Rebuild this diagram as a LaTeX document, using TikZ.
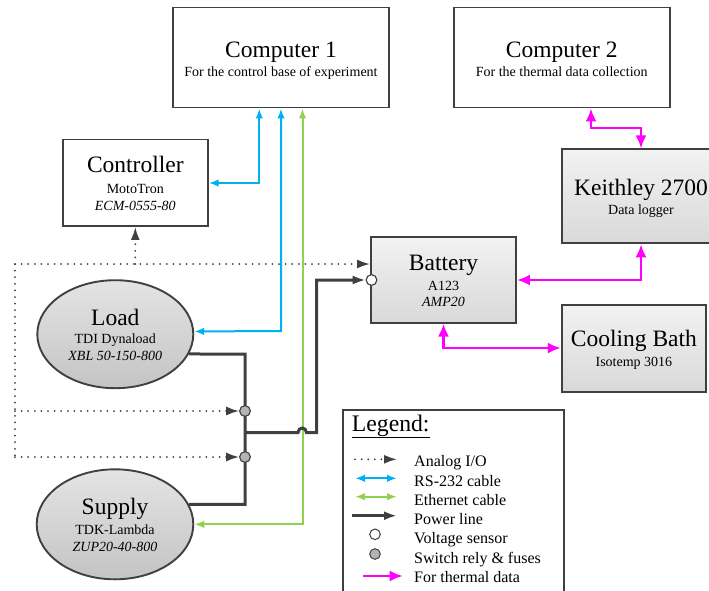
\documentclass[tikz,border=0pt]{standalone}
\usepackage{fontspec}
\setmainfont{Liberation Serif}
\usetikzlibrary{arrows.meta,shapes.geometric}
\definecolor{dk}{HTML}{404040}
\definecolor{rsblue}{HTML}{00B0F0}
\definecolor{ethgreen}{HTML}{92D050}
\definecolor{thmag}{HTML}{FF00FF}
\definecolor{boxtop}{HTML}{F2F2F2}
\definecolor{boxbot}{HTML}{D9D9D9}
\definecolor{elltop}{HTML}{E4E4E4}
\definecolor{ellbot}{HTML}{C4C4C4}
\definecolor{swfill}{HTML}{B4B4B4}
\tikzset{
  wbox/.style={rectangle, draw=dk, line width=1.9pt, fill=white, inner sep=0pt},
  gbox/.style={rectangle, draw=dk, line width=1.9pt, top color=boxtop, bottom color=boxbot, inner sep=0pt},
  ell/.style={ellipse, draw=dk, line width=1.9pt, top color=elltop, bottom color=ellbot, inner sep=0pt},
  ttl/.style={anchor=base, font=\fontsize{23.5}{26}\selectfont, inner sep=0pt},
  sub/.style={anchor=base, font=\fontsize{14}{16}\selectfont, inner sep=0pt},
  subit/.style={anchor=base, font=\fontsize{14}{16}\selectfont\itshape, inner sep=0pt},
  legtxt/.style={anchor=base west, font=\fontsize{16}{18}\selectfont, inner sep=0pt},
  rsline/.style={draw=rsblue, line width=2pt, >={Latex[length=10pt,width=7.5pt]}, <->},
  ethline/.style={draw=ethgreen, line width=2pt, >={Latex[length=10pt,width=7.5pt]}, <->},
  magline/.style={draw=thmag, line width=2.4pt, >={Latex[length=13pt,width=11pt]}, <->},
  dotline/.style={draw=dk, line width=2pt, line cap=round, dash pattern=on 0pt off 6.6pt},
  dotarr/.style={dotline, >={Latex[length=13pt,width=9pt]}, ->},
  pwr/.style={draw=dk, line width=3pt},
  pwrarr/.style={pwr, >={Latex[length=13pt,width=9pt]}, ->},
  swnode/.style={circle, draw=dk, line width=1pt, fill=swfill, minimum size=10.6pt, inner sep=0pt},
  vsnode/.style={circle, draw=dk, line width=1pt, fill=white, minimum size=10.6pt, inner sep=0pt}
}
\begin{document}
\begin{tikzpicture}[x=1pt,y=-1pt]
\useasboundingbox (0,0) rectangle (709,590);

% boxes
\node[wbox, minimum width=216pt, minimum height=100pt] (comp1) at (281,57.5) {};
\node[wbox, minimum width=216pt, minimum height=100pt] (comp2) at (561.75,57.5) {};
\node[wbox, minimum width=144.7pt, minimum height=86.5pt] (ctrl) at (135.3,182.75) {};
\node[gbox, minimum width=158pt, minimum height=94pt] (keith) at (641,196.4) {};
\node[gbox, minimum width=145pt, minimum height=86pt] (batt) at (443.5,279.7) {};
\node[gbox, minimum width=144.3pt, minimum height=86.7pt] (cool) at (633.9,348.3) {};
\node[ell, minimum width=156pt, minimum height=108pt] (load) at (115.3,334.2) {};
\node[ell, minimum width=156.6pt, minimum height=110pt] (supply) at (115,524.3) {};
\node[wbox, minimum width=221pt, minimum height=185pt] (legend) at (453.8,502.5) {};

% texts
\node[ttl] (comp1t) at (281,57) {Computer 1};
\node[sub] (comp1s) at (281,76) {For the control base of experiment};
\node[ttl] (comp2t) at (561.75,57) {Computer 2};
\node[sub] (comp2s) at (561.75,76) {For the thermal data collection};
\node[ttl] (ctrlt) at (135.3,172.7) {Controller};
\node[sub] (ctrls) at (135.3,193.3) {MotoTron};
\node[subit] (ctrli) at (135.3,210) {ECM-0555-80};
\node[ttl] (keitht) at (641,195) {Keithley 2700};
\node[sub] (keiths) at (641,214.5) {Data logger};
\node[ttl] (battt) at (443.5,270) {Battery};
\node[sub] (batts) at (443.5,290) {A123};
\node[subit] (batti) at (443.5,306.7) {AMP20};
\node[ttl] (coolt) at (633.9,346.7) {Cooling Bath};
\node[sub] (cools) at (633.9,366.7) {Isotemp 3016};
\node[ttl] (loadt) at (115.3,325) {Load};
\node[sub] (loads) at (115.3,343.3) {TDI Dynaload};
\node[subit] (loadi) at (115.3,360) {XBL 50-150-800};
\node[ttl] (supt) at (115,514) {Supply};
\node[sub] (sups) at (115,534.3) {TDK-Lambda};
\node[subit] (supi) at (115,551.7) {ZUP20-40-800};

% junction coordinates
\coordinate (b1) at (259.3,183);
\coordinate (b2) at (281,331);
\coordinate (g1) at (302.5,524.3);
\coordinate (m1) at (591,128);
\coordinate (m2) at (641,128);
\coordinate (m3) at (641,280);
\coordinate (m4) at (443.5,348);
\coordinate (dA) at (15,264);
\coordinate (dS1) at (15,411);
\coordinate (dB) at (15,457);
\coordinate (dC) at (135.3,264);
\coordinate (pv1) at (245,354.2);
\coordinate (pv2) at (245,504.3);
\coordinate (pj) at (245,432.7);
\coordinate (hop1) at (298,432.7);
\coordinate (hop2) at (306.5,432.7);
\coordinate (pk) at (316.7,432.7);
\coordinate (pl) at (316.7,280);

% switch and sensor nodes
\node[swnode] (sw1) at (245,411) {};
\node[swnode] (sw2) at (245,457) {};
\node[vsnode] (vs) at (371.5,280) {};

% RS-232 and Ethernet
\draw[rsline] (comp1.south -| b1) -- (b1) -- (ctrl.east |- b1);
\draw[rsline] (comp1.south -| b2) -- (b2) -- (load.2.4);
\draw[ethline] (comp1.south -| g1) -- (g1) -- (supply.east);

% thermal data
\draw[magline] (comp2.south -| m1) -- (m1) -- (m2) -- (keith.north -| m2);
\draw[magline] (batt.east |- m3) -- (m3) -- (keith.south -| m3);
\draw[magline] (batt.south) -- (m4) -- (cool.west |- m4);

% analog I/O
\draw[dotline] (dA) -- (dB);
\draw[dotarr] (dA) -- (batt.west |- dA);
\draw[dotarr] (dC) -- (ctrl.south);
\draw[dotarr] (dS1) -- (sw1.west);
\draw[dotarr] (dB) -- (sw2.west);

% power lines
\draw[pwr] (load.-15.4) -- (pv1) -- (pv2) -- (supply.15.3);
\draw[pwrarr] (pj) -- (hop1) .. controls (298,426.5) and (306.5,426.5) .. (hop2) -- (pk) -- (pl) -- (vs.west);

% redraw circles on top
\node[swnode] at (sw1) {};
\node[swnode] at (sw2) {};
\node[vsnode] at (vs) {};

% legend
\node[anchor=base west, font=\fontsize{23.7}{26}\selectfont, inner sep=0pt] (legt) at (351.7,431) {\underline{Legend:}};
\coordinate (la1) at (355,459.3); \coordinate (la2) at (397,459.3);
\coordinate (lb1) at (355,478.3); \coordinate (lb2) at (397,478.3);
\coordinate (lc1) at (355,496.7); \coordinate (lc2) at (397,496.7);
\coordinate (ld1) at (352,515.7); \coordinate (ld2) at (397,515.7);
\coordinate (lf1) at (363,576); \coordinate (lf2) at (402.7,576);
\draw[dotarr] (la1) -- (la2);
\draw[rsline] (lb1) -- (lb2);
\draw[ethline] (lc1) -- (lc2);
\draw[pwrarr] (ld1) -- (ld2);
\node[vsnode] (lvs) at (375,534.3) {};
\node[swnode] (lsw) at (375,554) {};
\draw[magline, ->] (lf1) -- (lf2);
\node[legtxt] (lt1) at (414,466.7) {Analog I/O};
\node[legtxt] (lt2) at (414,486) {RS-232 cable};
\node[legtxt] (lt3) at (414,505.3) {Ethernet cable};
\node[legtxt] (lt4) at (414,524.3) {Power line};
\node[legtxt] (lt5) at (414,543.5) {Voltage sensor};
\node[legtxt] (lt6) at (414,563.3) {Switch rely \& fuses};
\node[legtxt] (lt7) at (414,582.7) {For thermal data};
\end{tikzpicture}
\end{document}
